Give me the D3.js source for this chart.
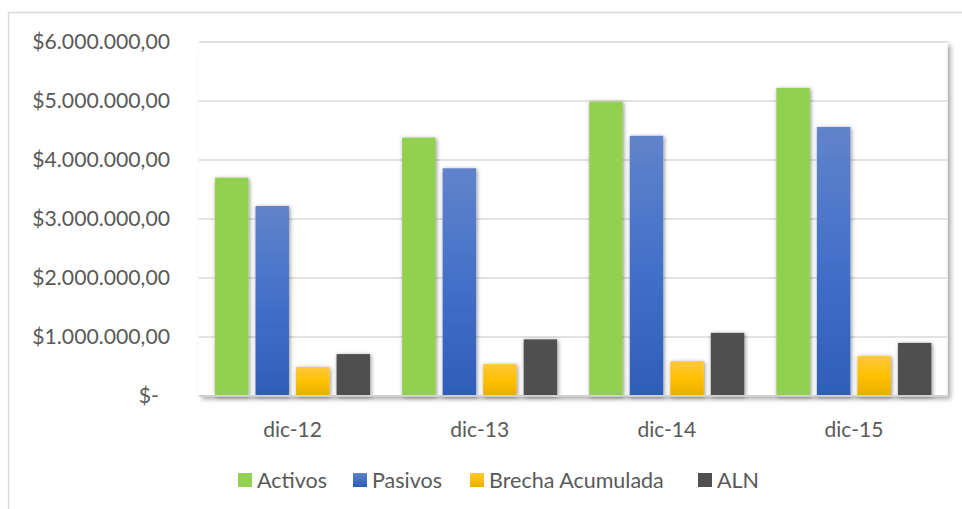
<!DOCTYPE html>
<html>
<head>
<meta charset="utf-8">
<script src="https://cdn.jsdelivr.net/npm/d3@7"></script>
<style>
  body{margin:0;background:#fff}
  text{font-family:Lato,"Open Sans",sans-serif;fill:#595959}
</style>
</head>
<body>
<div id="chart"></div>
<script>
var categories = ['dic-12','dic-13','dic-14','dic-15']
var series = ['Activos','Pasivos','Brecha Acumulada','ALN']
var activos = [3700000,4380000,4990000,5220000]
var pasivos = [3220000,3860000,4410000,4560000]
var brecha = [490000,540000,590000,680000]
var aln = [710000,960000,1070000,900000]
var yTicks = [0,1000000,2000000,3000000,4000000,5000000,6000000]

var values = [activos,pasivos,brecha,aln]
var width = 962, height = 509
var plot = {left:199,right:947.5,top:42,bottom:396}

var svg = d3.select('#chart')
    .append('svg')
    .attr('width',width)
    .attr('height',height)

var defs = svg.append('defs')

var shadow = (id,dx,dy,sd,op) => {
  var f = defs.append('filter').attr('id',id)
    .attr('x','-30%').attr('y','-30%').attr('width','160%').attr('height','160%')
  f.append('feDropShadow')
    .attr('dx',dx).attr('dy',dy).attr('stdDeviation',sd)
    .attr('flood-color','#000').attr('flood-opacity',op)
}
shadow('plotShadow',3,3,2.5,0.35)
shadow('barShadow',1,1,2,0.45)

var grad = (id,stops) => {
  var g = defs.append('linearGradient').attr('id',id)
    .attr('x1',0).attr('y1',0).attr('x2',0).attr('y2',1)
  stops.forEach(s => g.append('stop').attr('offset',s[0]).attr('stop-color',s[1]))
}
grad('gPasivos',[[0,'#6184cb'],[0.5,'#4370c8'],[1,'#2e5eb8']])
grad('gBrecha',[[0,'#ffc83c'],[0.5,'#ffc000'],[1,'#e9ad00']])

var fills = ['#92d050','url(#gPasivos)','url(#gBrecha)','#505050']

// chart border
svg.append('rect')
  .attr('x',8.5).attr('y',12.5)
  .attr('width',1000).attr('height',600)
  .attr('fill','none').attr('stroke','#d9d9d9').attr('stroke-width',1.5)

// plot area
svg.append('rect')
  .attr('x',plot.left).attr('y',plot.top)
  .attr('width',plot.right-plot.left).attr('height',plot.bottom-plot.top)
  .attr('fill','#fff')
  .attr('filter','url(#plotShadow)')

var y = d3.scaleLinear()
    .domain([0,6000000])
    .range([plot.bottom,plot.top])

var x0 = d3.scaleBand()
    .domain(categories)
    .range([plot.left,plot.right])

var x1 = d3.scaleBand()
    .domain(series)
    .range([16,171])
    .paddingInner(0.175)

// gridlines
svg.append('g')
  .selectAll('line')
  .data(yTicks)
  .join('line')
  .attr('x1',plot.left).attr('x2',plot.right)
  .attr('y1',d=>y(d)).attr('y2',d=>y(d))
  .attr('stroke','#d9d9d9').attr('stroke-width',1.5)

// y labels
var fmt = d => d===0 ? '$-' : '$' + d3.format(',.2f')(d).replace(/,/g,'#').replace('.',',').replace(/#/g,'.')
svg.append('g')
  .selectAll('text')
  .data(yTicks)
  .join('text')
  .attr('x',d=> d===0 ? 159 : 170)
  .attr('y',d=>y(d))
  .attr('dy','0.35em')
  .attr('text-anchor','end')
  .attr('font-size',21.2)
  .text(fmt)

// bars
var groups = svg.append('g')
  .selectAll('g')
  .data(categories)
  .join('g')
  .attr('transform',d=>`translate(${x0(d)},0)`)

groups.selectAll('rect')
  .data((c,i)=>series.map((s,j)=>({s,j,v:values[j][i]})))
  .join('rect')
  .attr('x',d=>x1(d.s))
  .attr('width',x1.bandwidth())
  .attr('y',d=>y(d.v))
  .attr('height',d=>y(0)-y(d.v))
  .attr('fill',d=>fills[d.j])
  .attr('filter','url(#barShadow)')

// bottom axis line
svg.append('line')
  .attr('x1',plot.left).attr('x2',plot.right)
  .attr('y1',plot.bottom).attr('y2',plot.bottom)
  .attr('stroke','#d0d0d0').attr('stroke-width',2)

// category labels
svg.append('g')
  .selectAll('text')
  .data(categories)
  .join('text')
  .attr('x',d=>x0(d)+x0.bandwidth()/2)
  .attr('y',430)
  .attr('dy','0.35em')
  .attr('text-anchor','middle')
  .attr('font-size',21)
  .text(d=>d)

// legend
var legendX = [238,353,470,698]
var lg = svg.append('g')
  .selectAll('g')
  .data(series)
  .join('g')
  .attr('transform',(d,i)=>`translate(${legendX[i]},480)`)
lg.append('rect')
  .attr('x',0).attr('y',-7)
  .attr('width',14).attr('height',14)
  .attr('fill',(d,i)=>fills[i])
lg.append('text')
  .attr('x',19)
  .attr('dy','0.35em')
  .attr('font-size',21.5)
  .text(d=>d)
</script>
</body>
</html>
